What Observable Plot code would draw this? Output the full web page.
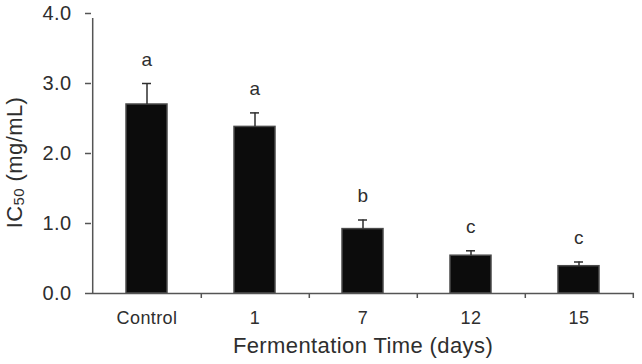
<!DOCTYPE html>
<html>
<head>
<meta charset="utf-8">
<script src="https://cdn.jsdelivr.net/npm/d3@7"></script>
<script src="https://cdn.jsdelivr.net/npm/@observablehq/plot@0.6"></script>
<style>
  html, body { margin: 0; padding: 0; background: #fff; }
  #chart svg { display: block; }
  #chart svg text { letter-spacing: 0.4px; }
</style>
</head>
<body>
<div id="chart"></div>
<script>
// IC50 by fermentation time: mean, standard deviation and significance group
const categories = ["Control", "1", "7", "12", "15"];
const ic50Mean = [2.70, 2.38, 0.92, 0.54, 0.39];
const ic50Sd = [0.30, 0.20, 0.13, 0.07, 0.06];
const groupLetters = ["a", "a", "b", "c", "c"];
const yTicks = [0, 1, 2, 3, 4];

const rows = categories.map((c, i) => ({
  day: c,
  mean: ic50Mean[i],
  sd: ic50Sd[i],
  top: ic50Mean[i] + ic50Sd[i],
  letter: groupLetters[i]
}));

const W = 642, H = 364;
const margin = {left: 91, right: 8, top: 13, bottom: 71};
const step = (W - margin.left - margin.right) / categories.length;
const font = "Liberation Sans, Arial, Helvetica, sans-serif";
const ink = "#2e2e2e";
const axisInk = "#555";

const chart = Plot.plot({
  width: W,
  height: H,
  marginLeft: margin.left,
  marginRight: margin.right,
  marginTop: margin.top,
  marginBottom: margin.bottom,
  style: {fontFamily: font, color: ink, background: "#fff"},
  x: {domain: categories, paddingInner: 0.62, paddingOuter: 0.31},
  y: {domain: [0, 4]},
  marks: [
    // bars
    Plot.barY(rows, {x: "day", y: "mean", fill: "#0c0c0c", stroke: "#4a4a4a", strokeWidth: 1.5}),
    // one-sided error bars with caps
    Plot.ruleX(rows, {x: "day", y1: "mean", y2: "top", stroke: ink, strokeWidth: 1.5}),
    Plot.tickY(rows, {x: "day", y: "top", stroke: ink, strokeWidth: 1.5, insetLeft: 16, insetRight: 16}),
    // significance letters
    Plot.text(rows, {x: "day", y: "top", text: "letter", dy: -24, fontSize: 19, fill: ink}),
    // axis lines
    Plot.ruleY([0], {stroke: axisInk, strokeWidth: 1.5}),
    Plot.ruleX([categories[0]], {x: d => d, y1: 0, y2: 4, dx: -step / 2, insetBottom: -5, stroke: axisInk, strokeWidth: 1.5}),
    // category boundary ticks
    Plot.ruleX(categories, {x: d => d, y1: 0, y2: 0, dx: step / 2, insetBottom: -5, stroke: axisInk, strokeWidth: 1.5}),
    Plot.axisY({ticks: yTicks, tickFormat: d3.format(".1f"), tickSize: 6, tickPadding: 14, fontSize: 20, stroke: axisInk, strokeWidth: 1.5, label: null}),
    Plot.axisX({tickSize: 0, tickPadding: 18, fontSize: 18, label: null}),
    // axis titles
    Plot.text(["Fermentation Time (days)"], {frameAnchor: "bottom", dy: 59, fontSize: 22, fill: ink}),
    Plot.text(["IC50 (mg/mL)"], {frameAnchor: "left", textAnchor: "middle", rotate: -90, dx: -77, dy: 9, fontSize: 22, fill: ink})
  ]
});

// render the "50" of IC50 as a subscript
d3.select(chart).selectAll("text").filter(function () {
  return this.textContent === "IC50 (mg/mL)";
}).each(function () {
  const t = d3.select(this);
  t.text(null);
  t.append("tspan").text("IC");
  t.append("tspan").attr("font-size", 15).attr("dy", 2).text("50");
  t.append("tspan").attr("dy", -2).text(" (mg/mL)");
});

document.getElementById("chart").appendChild(chart);
</script>
</body>
</html>
